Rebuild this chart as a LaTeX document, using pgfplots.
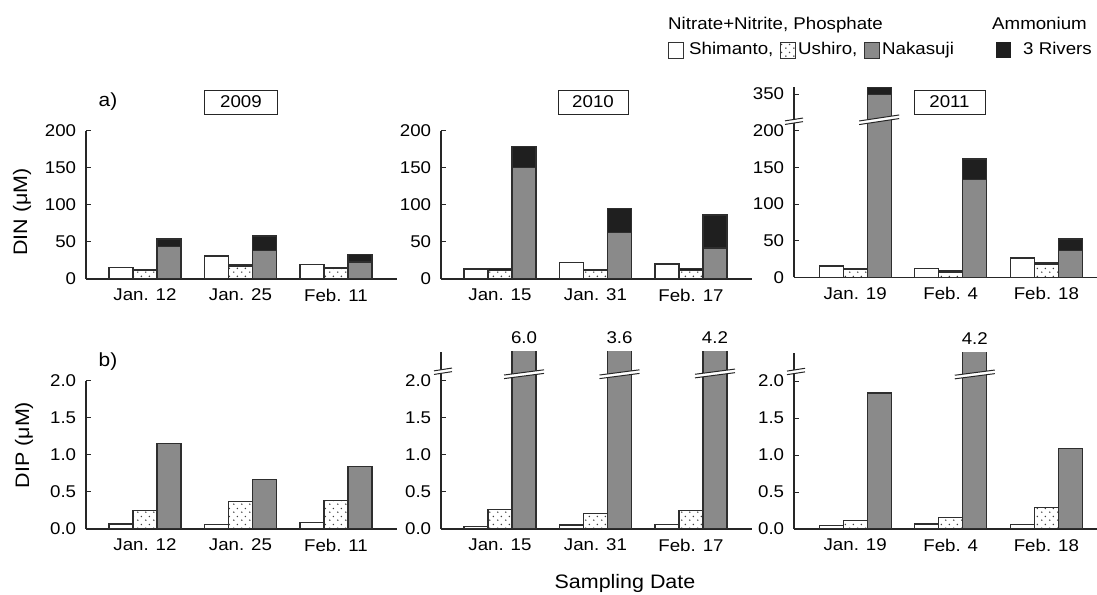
\documentclass[border=0pt]{standalone}
\usepackage{fontspec}
\setmainfont{Liberation Sans}[FakeStretch=1.1]
\usepackage{pgfplots}
\pgfplotsset{compat=1.18}
\usepackage{pgfplotstable}
\usetikzlibrary{patterns.meta}

\tikzdeclarepattern{
  name=sparsedots,
  type=uncolored,
  bounding box={(0pt,0pt) and (8pt,8pt)},
  tile size={(8pt,8pt)},
  code={\fill (2pt,2pt) circle (0.9pt); \fill (6pt,6pt) circle (0.9pt);}
}
\colorlet{nakgray}{black!46}
\colorlet{amm}{black!88}
\tikzset{udots/.style={fill=white, postaction={pattern=sparsedots, pattern color=black!75}}}

% DIN (uM): s=Shimanto, u=Ushiro, n=Nakasuji; n=nitrate+nitrite, a=ammonium
\pgfplotstableread{
x sn sa un ua nn na
0 15   0.5 11   2 44  10
1 31   0.5 17.5 2 38  20
2 19.5 0.5 14   2 23  10
}\dinA
\pgfplotstableread{
x sn sa un ua nn  na
0 13 0.5 12 2 151 28
1 22 0.5 11 2 63  32.5
2 20 0.5 12 2 42  44.5
}\dinB
\pgfplotstableread{
x sn   sa  un   ua nn    na
0 15.5 0.5 10.5 2  349   10
1 12   0.5 7.5  2  133.5 28
2 26.5 0.5 18.5 2  37    15.5
}\dinC
% DIP (uM)
\pgfplotstableread{
x s     u    n
0 0.067 0.25 1.15
1 0.063 0.37 0.67
2 0.09  0.38 0.845
}\dipA
\pgfplotstableread{
x s     u     n
0 0.03  0.265 6.0
1 0.054 0.21  3.6
2 0.058 0.247 4.2
}\dipB
\pgfplotstableread{
x s     u    n
0 0.045 0.12 1.84
1 0.067 0.16 4.2
2 0.058 0.29 1.09
}\dipC

\pgfplotsset{
  panel/.style={
    scale only axis, anchor=south west,
    axis x line=bottom, axis y line=left,
    axis line style={-, line width=1.5pt, draw=black!85},
    xtick={0,1,2}, xtick style={draw=none},
    ytick style={line width=1pt, draw=black!85},
    major tick length=5pt, tick align=inside,
    clip mode=individual,
    xmin=-0.618, xmax=2.639, width=311pt, ymin=0,
    yticklabel style={xshift=-4pt},
    xticklabel style={yshift=-4pt},
  },
  rb/.style={ybar, bar width=24pt, draw=black!82, line width=1.2pt},
}

\newcommand{\brk}[5]{%
  \fill[white] ([shift={(#3pt-#4pt,-#5pt-1.8pt)}]axis cs:#1,#2) -- ([shift={(#3pt+#4pt,#5pt-1.8pt)}]axis cs:#1,#2) -- ([shift={(#3pt+#4pt,#5pt+1.8pt)}]axis cs:#1,#2) -- ([shift={(#3pt-#4pt,-#5pt+1.8pt)}]axis cs:#1,#2) -- cycle;
  \draw[line width=1pt, black!85] ([shift={(#3pt-#4pt,-#5pt-1.8pt)}]axis cs:#1,#2) -- ([shift={(#3pt+#4pt,#5pt-1.8pt)}]axis cs:#1,#2);
  \draw[line width=1pt, black!85] ([shift={(#3pt-#4pt,-#5pt+1.8pt)}]axis cs:#1,#2) -- ([shift={(#3pt+#4pt,#5pt+1.8pt)}]axis cs:#1,#2);
}

\begin{document}
\fontsize{17}{20}\selectfont
\begin{tikzpicture}[x=1pt,y=1pt]
% ---------- a) DIN 2009
\begin{axis}[panel, at={(86pt,315pt)}, height=148pt, ymax=200,
  ytick={0,50,100,150,200}, yticklabels={0,50,100,150,200},
  xticklabels={Jan. 12, Jan. 25, Feb. 11}]
\addplot[rb, bar shift=-24pt, fill=amm] table[x=x, y expr=\thisrow{sn}+\thisrow{sa}]{\dinA};
\addplot[rb, bar shift=-24pt, fill=white] table[x=x, y=sn]{\dinA};
\addplot[rb, bar shift=0pt, fill=amm] table[x=x, y expr=\thisrow{un}+\thisrow{ua}]{\dinA};
\addplot[rb, bar shift=0pt, udots] table[x=x, y=un]{\dinA};
\addplot[rb, bar shift=24pt, fill=amm] table[x=x, y expr=\thisrow{nn}+\thisrow{na}]{\dinA};
\addplot[rb, bar shift=24pt, fill=nakgray] table[x=x, y=nn]{\dinA};
\end{axis}
% ---------- DIN 2010
\begin{axis}[panel, at={(441pt,315pt)}, height=148pt, ymax=200,
  ytick={0,50,100,150,200}, yticklabels={0,50,100,150,200},
  xticklabels={Jan. 15, Jan. 31, Feb. 17}]
\addplot[rb, bar shift=-24pt, fill=amm] table[x=x, y expr=\thisrow{sn}+\thisrow{sa}]{\dinB};
\addplot[rb, bar shift=-24pt, fill=white] table[x=x, y=sn]{\dinB};
\addplot[rb, bar shift=0pt, fill=amm] table[x=x, y expr=\thisrow{un}+\thisrow{ua}]{\dinB};
\addplot[rb, bar shift=0pt, udots] table[x=x, y=un]{\dinB};
\addplot[rb, bar shift=24pt, fill=amm] table[x=x, y expr=\thisrow{nn}+\thisrow{na}]{\dinB};
\addplot[rb, bar shift=24pt, fill=nakgray] table[x=x, y=nn]{\dinB};
\end{axis}
% ---------- DIN 2011 (broken axis: values above 200 shown 100 lower)
\begin{axis}[panel, at={(794pt,316.5pt)}, height=190pt, ymax=259,
  width=303pt, xmin=-0.64, xmax=2.53,
  ytick={0,50,100,150,200,250}, yticklabels={0,50,100,150,200,350},
  xticklabels={Jan. 19, Feb. 4, Feb. 18}]
\addplot[rb, bar shift=-24pt, fill=amm] table[x=x, y expr=\thisrow{sn}+\thisrow{sa}]{\dinC};
\addplot[rb, bar shift=-24pt, fill=white] table[x=x, y=sn]{\dinC};
\addplot[rb, bar shift=0pt, fill=amm] table[x=x, y expr=\thisrow{un}+\thisrow{ua}]{\dinC};
\addplot[rb, bar shift=0pt, udots] table[x=x, y=un]{\dinC};
\addplot[rb, bar shift=24pt, fill=amm] table[x=x, y expr={(\thisrow{nn}+\thisrow{na})>200 ? \thisrow{nn}+\thisrow{na}-100 : \thisrow{nn}+\thisrow{na}}]{\dinC};
\addplot[rb, bar shift=24pt, fill=nakgray] table[x=x, y expr={\thisrow{nn}>200 ? \thisrow{nn}-100 : \thisrow{nn}}]{\dinC};
\brk{-0.64}{213}{0}{9}{1.4}
\brk{0}{215}{24}{20}{3}
\end{axis}
% ---------- b) DIP 2009
\begin{axis}[panel, at={(86pt,65pt)}, height=148pt, ymax=2,
  ytick={0,0.5,1,1.5,2}, yticklabels={0.0,0.5,1.0,1.5,2.0},
  xticklabels={Jan. 12, Jan. 25, Feb. 11}]
\addplot[rb, bar shift=-24pt, fill=white] table[x=x, y=s]{\dipA};
\addplot[rb, bar shift=0pt, udots] table[x=x, y=u]{\dipA};
\addplot[rb, bar shift=24pt, fill=nakgray] table[x=x, y=n]{\dipA};
\end{axis}
% ---------- DIP 2010
\begin{axis}[panel, at={(441pt,65pt)}, height=177pt, ymax=2.39,
  ytick={0,0.5,1,1.5,2}, yticklabels={0.0,0.5,1.0,1.5,2.0},
  xticklabels={Jan. 15, Jan. 31, Feb. 17}]
\addplot[rb, bar shift=-24pt, fill=white] table[x=x, y=s]{\dipB};
\addplot[rb, bar shift=0pt, udots] table[x=x, y=u]{\dipB};
\addplot[rb, bar shift=24pt, fill=nakgray] table[x=x, y=n]{\dipB};
\brk{-0.618}{2.13}{2}{9}{1.4}
\brk{0}{2.09}{24}{20}{2.6}
\brk{1}{2.09}{24}{20}{2.6}
\brk{2}{2.10}{24}{20}{2.6}
\node[anchor=base] at ([xshift=24pt,yshift=8pt]axis cs:0,2.39) {6.0};
\node[anchor=base] at ([xshift=24pt,yshift=8pt]axis cs:1,2.39) {3.6};
\node[anchor=base] at ([xshift=24pt,yshift=8pt]axis cs:2,2.39) {4.2};
\end{axis}
% ---------- DIP 2011
\begin{axis}[panel, at={(794pt,65pt)}, height=176pt, ymax=2.38,
  width=303pt, xmin=-0.64, xmax=2.53,
  ytick={0,0.5,1,1.5,2}, yticklabels={0.0,0.5,1.0,1.5,2.0},
  xticklabels={Jan. 19, Feb. 4, Feb. 18}]
\addplot[rb, bar shift=-24pt, fill=white] table[x=x, y=s]{\dipC};
\addplot[rb, bar shift=0pt, udots] table[x=x, y=u]{\dipC};
\addplot[rb, bar shift=24pt, fill=nakgray] table[x=x, y=n]{\dipC};
\brk{-0.64}{2.13}{2}{9}{1.4}
\brk{1}{2.09}{24}{20}{2.6}
\node[anchor=base] at ([xshift=24pt,yshift=8pt]axis cs:1,2.38) {4.2};
\end{axis}
% ---------- labels
\node[rotate=90, font=\fontsize{19.5}{22}\selectfont] at (22,382) {DIN (μM)};
\node[rotate=90, font=\fontsize{19.5}{22}\selectfont] at (24,149) {DIP (μM)};
\node[font=\fontsize{19.5}{22}\selectfont] at (625,11) {Sampling Date};
\node[font=\fontsize{19}{22}\selectfont] at (108,492) {a)};
\node[font=\fontsize{19}{22}\selectfont] at (108,232) {b)};
\node[draw=black!85, line width=0.9pt, minimum width=73pt, minimum height=24pt, inner sep=0pt, fill=white] at (241,492) {2009};
\node[draw=black!85, line width=0.9pt, minimum width=70pt, minimum height=24pt, inner sep=0pt, fill=white] at (593,492) {2010};
\node[draw=black!85, line width=0.9pt, minimum width=71pt, minimum height=24pt, inner sep=0pt, fill=white] at (949.5,492) {2011};
% ---------- legend
\node[anchor=base west, inner sep=0pt] at (668,564) {Nitrate+Nitrite, Phosphate};
\node[anchor=base west, inner sep=0pt] at (992,564) {Ammonium};
\draw[line width=0.8pt, draw=black!80, fill=white] (668,536) rectangle (683.5,552);
\node[anchor=base west, inner sep=0pt] at (689,539) {Shimanto,};
\draw[line width=0.8pt, draw=black!80, udots] (780,536) rectangle (795,552);
\node[anchor=base west, inner sep=0pt] at (798,539) {Ushiro,};
\draw[line width=0.8pt, draw=black!80, fill=nakgray] (864,536) rectangle (879,552);
\node[anchor=base west, inner sep=0pt] at (882,539) {Nakasuji};
\fill[amm] (996,536) rectangle (1011,552);
\node[anchor=base west, inner sep=0pt] at (1023,539) {3 Rivers};
\pgfresetboundingbox
\path (0,0) rectangle (1097,594);
\end{tikzpicture}
\end{document}
